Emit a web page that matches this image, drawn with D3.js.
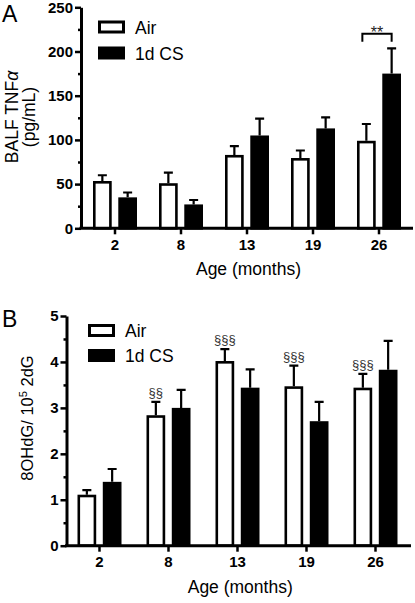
<!DOCTYPE html>
<html>
<head>
<meta charset="utf-8">
<script src="https://cdn.jsdelivr.net/npm/d3@7/dist/d3.min.js"></script>
<style>
  html, body { margin: 0; padding: 0; background: #fff; }
  svg { display: block; }
  text { font-family: Arial, "Liberation Sans", sans-serif; }
</style>
</head>
<body>
<svg id="chart" width="415" height="603"></svg>
<script>
// ---------------- data ----------------
const ages = ["2", "8", "13", "19", "26"];
const seriesNames = ["Air", "1d CS"];

// Panel A: BALF TNF-alpha (pg/mL)
const tnfAir    = [53.5, 51.0, 83.0, 79.5, 99.0];
const tnfAirErr = [6.5, 12.0, 10.0, 8.5, 19.0];
const tnfCS     = [35.0, 27.0, 105.0, 113.0, 175.0];
const tnfCSErr  = [5.5, 5.0, 19.0, 12.5, 28.5];
const tnfTicks  = [0, 50, 100, 150, 200, 250];
const tnfMinor  = [25, 75, 125, 175, 225];
const tnfSigAge = "26";
const tnfSigY   = [211, 220];   // bracket leg bottom, bracket top
const tnfSigText = "**";

// Panel B: 8OHdG / 10^5 2dG
const ohdgAir    = [1.11, 2.84, 4.02, 3.47, 3.44];
const ohdgAirErr = [0.10, 0.29, 0.26, 0.45, 0.30];
const ohdgCS     = [1.39, 3.00, 3.44, 2.71, 3.83];
const ohdgCSErr  = [0.28, 0.39, 0.40, 0.42, 0.63];
const ohdgTicks  = [0, 1, 2, 3, 4, 5];
const ohdgMinor  = [0.5, 1.5, 2.5, 3.5, 4.5];
const ohdgSig    = ["", "§§", "§§§", "§§§", "§§§"];

// ---------------- drawing ----------------
const svg = d3.select("#chart");

function drawPanel(cfg) {
  const g = svg.append("g");
  const x = d3.scaleBand().domain(ages).range(cfg.xRange).padding(0);
  const sub = d3.scaleBand().domain(seriesNames).range([-22, 22]).paddingInner(0.26).paddingOuter(0);
  const y = d3.scaleLinear().domain(cfg.yDomain).range(cfg.yRange);
  const bw = sub.bandwidth();
  const sw = 2.6;

  const rows = ages.map((a, i) => ([
    { age: a, s: "Air", v: cfg.air[i], e: cfg.airErr[i] },
    { age: a, s: "1d CS", v: cfg.cs[i], e: cfg.csErr[i] }
  ])).flat();

  const cx = d => x(d.age) + x.bandwidth() / 2 + sub(d.s) + bw / 2;

  // error bars (upper only)
  g.selectAll(".err").data(rows).enter().append("path")
    .attr("d", d => {
      const c = cx(d), y1 = y(d.v), y2 = y(d.v + d.e);
      return `M${c},${y1}V${y2}M${c - 4.5},${y2}H${c + 4.5}`;
    })
    .attr("stroke", "#000").attr("stroke-width", 2.2).attr("fill", "none");

  // bars
  g.selectAll(".bar").data(rows).enter().append("rect")
    .attr("x", d => x(d.age) + x.bandwidth() / 2 + sub(d.s) + sw / 2)
    .attr("width", bw - sw)
    .attr("y", d => y(d.v) + sw / 2)
    .attr("height", d => y(0) - y(d.v) - sw / 2)
    .attr("fill", d => d.s === "Air" ? "#fff" : "#000")
    .attr("stroke", "#000").attr("stroke-width", sw);

  // y axis (major)
  const ya = g.append("g").attr("transform", `translate(${cfg.yAxisX},0)`)
    .call(d3.axisLeft(y).tickValues(cfg.ticks).tickFormat(d3.format("d"))
      .tickSize(6).tickSizeOuter(0).tickPadding(2));
  ya.select(".domain").attr("stroke-width", 3);
  ya.selectAll(".tick line").attr("stroke-width", 2.5);
  ya.selectAll(".tick text").attr("font-size", 15).attr("font-weight", "bold")
    .attr("font-family", "Arial, 'Liberation Sans', sans-serif").attr("fill", "#000");
  // minor ticks
  const ym = g.append("g").attr("transform", `translate(${cfg.yAxisX},0)`)
    .call(d3.axisLeft(y).tickValues(cfg.minor).tickSize(3).tickFormat(""));
  ym.select(".domain").remove();
  ym.selectAll(".tick line").attr("stroke-width", 2.5);

  // x axis
  const xa = g.append("g").attr("transform", `translate(0,${y(0)})`)
    .call(d3.axisBottom(x).tickSize(6).tickSizeOuter(0).tickPadding(5));
  xa.select(".domain").attr("d", `M${cfg.yAxisX - 1.5},0H${cfg.xRange[1] + 1}`).attr("stroke-width", 3);
  xa.selectAll(".tick line").attr("stroke-width", 2.5);
  xa.selectAll(".tick text").attr("font-size", 15).attr("font-weight", "bold")
    .attr("font-family", "Arial, 'Liberation Sans', sans-serif").attr("fill", "#000");

  // x title
  g.append("text").attr("x", (cfg.yAxisX + cfg.xRange[1]) / 2 + 2).attr("y", y(0) + 47)
    .attr("text-anchor", "middle").attr("font-size", 17.5).text("Age (months)");

  // panel letter
  g.append("text").attr("x", 2).attr("y", cfg.letterY).attr("font-size", 23).text(cfg.letter);

  // legend
  seriesNames.forEach((s, i) => {
    const ly = cfg.legendY + i * cfg.legendStep;
    g.append("rect").attr("x", cfg.legendX + 1.5).attr("y", ly + 1.5).attr("width", 24).attr("height", 10)
      .attr("fill", s === "Air" ? "#fff" : "#000").attr("stroke", "#000").attr("stroke-width", 3);
    g.append("text").attr("x", cfg.legendX + 37).attr("y", ly + 13)
      .attr("font-size", 17.5).text(s);
  });

  return { g, x, y, sub, cx, bw };
}

// ----- Panel A -----
const A = drawPanel({
  letter: "A", letterY: 22,
  xRange: [82, 412], yRange: [228.3, 7.3], yDomain: [0, 250], yAxisX: 81,
  ticks: tnfTicks, minor: tnfMinor,
  air: tnfAir, airErr: tnfAirErr, cs: tnfCS, csErr: tnfCSErr,
  legendX: 98, legendY: 20.5, legendStep: 26
});
// y label A
const ylA = A.g.append("text").attr("transform", "translate(18,117) rotate(-90)")
  .attr("text-anchor", "middle").attr("font-size", 17.5);
ylA.append("tspan").text("BALF TNF");
ylA.append("tspan").attr("font-style", "italic").text("α");
A.g.append("text").attr("transform", "translate(35,117) rotate(-90)")
  .attr("text-anchor", "middle").attr("font-size", 17.5).text("(pg/mL)");
// significance bracket
{
  const xl = A.cx({ age: tnfSigAge, s: "Air" }) - 4;
  const xr = A.cx({ age: tnfSigAge, s: "1d CS" });
  const yb = A.y(tnfSigY[0]), yt = A.y(tnfSigY[1]);
  A.g.append("path").attr("d", `M${xl},${yb}V${yt}H${xr}V${yb}`)
    .attr("fill", "none").attr("stroke", "#000").attr("stroke-width", 2);
  A.g.append("text").attr("x", (xl + xr) / 2).attr("y", yt + 4)
    .attr("text-anchor", "middle").attr("font-size", 16).attr("fill", "#222").text(tnfSigText);
}

// ----- Panel B -----
const B = drawPanel({
  letter: "B", letterY: 327,
  xRange: [65, 410], yRange: [545.7, 316], yDomain: [0, 5], yAxisX: 66.5,
  ticks: ohdgTicks, minor: ohdgMinor,
  air: ohdgAir, airErr: ohdgAirErr, cs: ohdgCS, csErr: ohdgCSErr,
  legendX: 88, legendY: 324, legendStep: 25
});
// y label B
const ylB = B.g.append("text").attr("transform", "translate(33,418) rotate(-90)")
  .attr("text-anchor", "middle").attr("font-size", 16.5);
ylB.append("tspan").text("8OHdG/ 10");
ylB.append("tspan").attr("font-size", 11).attr("dy", -6).text("5");
ylB.append("tspan").attr("dy", 6).text(" 2dG");
// section-sign annotations above Air bars
B.g.selectAll(".sig").data(ages.map((a, i) => ({ age: a, t: ohdgSig[i], v: ohdgAir[i] + ohdgAirErr[i] })))
  .enter().append("text")
  .attr("x", d => B.cx({ age: d.age, s: "Air" }))
  .attr("y", d => B.y(d.v) - 5)
  .attr("text-anchor", "middle").attr("font-size", 13).attr("fill", "#333")
  .text(d => d.t);
</script>
</body>
</html>
